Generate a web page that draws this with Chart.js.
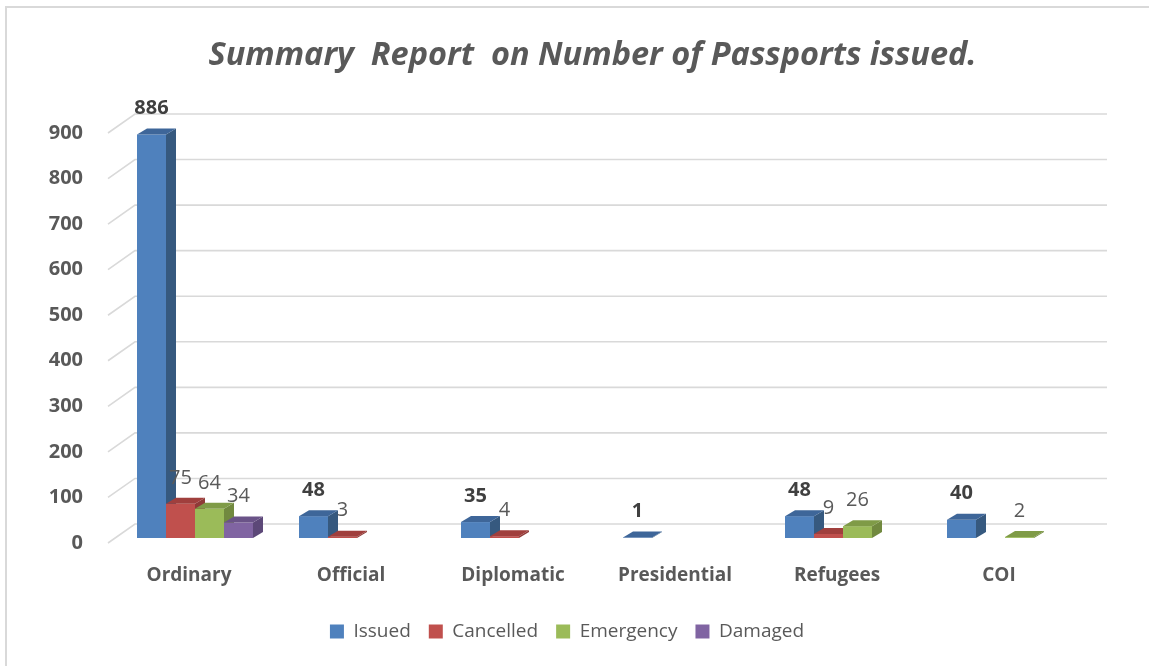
<!DOCTYPE html>
<html lang="en">
<head>
<meta charset="UTF-8">
<title>Summary Report on Number of Passports issued</title>
<script src="https://cdn.jsdelivr.net/npm/chart.js"></script>
<style>
  body { margin: 0; background: #fff; }
  canvas { display: block; }
</style>
</head>
<body>
<canvas id="chart" width="1149" height="666"></canvas>
<script>
// data
const categories = ['Ordinary', 'Official', 'Diplomatic', 'Presidential', 'Refugees', 'COI'];
const issued    = [886, 48, 35, 1, 48, 40];
const cancelled = [75, 3, 4, null, 9, null];
const emergency = [64, null, null, null, 26, 2];
const damaged   = [34, null, null, null, null, null];
const yMin = 0, yMax = 900, yStep = 100;

// front / side / top shades for the fake 3d columns
const shades = [
  { front: '#4f81bd', side: '#36597f', top: '#3e6699' },
  { front: '#c0504d', side: '#8f3a38', top: '#a03f3d' },
  { front: '#9bbb59', side: '#71893f', top: '#7f9b47' },
  { front: '#8064a2', side: '#5c4878', top: '#6a5388' }
];

const WALL_DX = 27, WALL_DY = 19;   // depth of the floor / back wall
const BAR_OX = 6, BAR_OY = -5;      // columns sit a little behind the front edge
const BAR_DX = 10, BAR_DY = 6;      // depth of a column

function poly(ctx, pts, fill) {
  ctx.beginPath();
  ctx.moveTo(pts[0][0], pts[0][1]);
  for (let k = 1; k < pts.length; k++) ctx.lineTo(pts[k][0], pts[k][1]);
  ctx.closePath();
  ctx.fillStyle = fill;
  ctx.fill();
}

const bars3d = {
  id: 'bars3d',
  afterLayout(chart) {
    // excel centres title and legend a bit differently from the plot area
    chart.titleBlock.left = 36;
    chart.titleBlock.right = chart.width;
    chart.legend.left = 54;
    chart.legend.right = 1080;
  },
  beforeDraw(chart) {
    const ctx = chart.ctx;
    ctx.save();
    ctx.strokeStyle = '#d9d9d9';
    ctx.lineWidth = 2;
    ctx.strokeRect(6, 7, chart.width + 20, chart.height + 20);
    ctx.restore();
  },
  beforeDatasetsDraw(chart) {
    const ctx = chart.ctx;
    const a = chart.chartArea;
    const y = chart.scales.y;
    ctx.save();

    // back wall grid + side wall edges
    ctx.strokeStyle = '#d9d9d9';
    ctx.lineWidth = 1.6;
    y.ticks.forEach(t => {
      const py = y.getPixelForValue(t.value);
      ctx.beginPath();
      ctx.moveTo(a.left, py);
      ctx.lineTo(a.left + WALL_DX, py - WALL_DY);
      ctx.lineTo(a.right + WALL_DX, py - WALL_DY);
      ctx.stroke();
    });

    // columns
    chart.data.datasets.forEach((ds, i) => {
      const meta = chart.getDatasetMeta(i);
      if (meta.hidden) return;
      const c = shades[i];
      meta.data.forEach((bar, j) => {
        if (ds.data[j] == null) return;
        const x1 = bar.x - bar.width / 2 + BAR_OX;
        const x2 = bar.x + bar.width / 2 + BAR_OX;
        const top = bar.y + BAR_OY;
        const bot = bar.base + BAR_OY;
        poly(ctx, [[x1, top], [x2, top], [x2, bot], [x1, bot]], c.front);
        poly(ctx, [[x2, top], [x2 + BAR_DX, top - BAR_DY], [x2 + BAR_DX, bot - BAR_DY], [x2, bot]], c.side);
        poly(ctx, [[x1, top], [x1 + BAR_DX, top - BAR_DY], [x2 + BAR_DX, top - BAR_DY], [x2, top]], c.top);
      });
    });

    // value labels
    ctx.textAlign = 'center';
    ctx.textBaseline = 'middle';
    chart.data.datasets.forEach((ds, i) => {
      const meta = chart.getDatasetMeta(i);
      if (meta.hidden) return;
      if (i === 0) {
        ctx.font = 'bold 20px "Open Sans"';
        ctx.fillStyle = '#404040';
      } else {
        ctx.font = '20px "Open Sans"';
        ctx.fillStyle = '#595959';
      }
      meta.data.forEach((bar, j) => {
        if (ds.data[j] == null) return;
        ctx.fillText(String(ds.data[j]), bar.x + BAR_OX, bar.y + BAR_OY - 26);
      });
    });

    ctx.restore();
    return false;
  }
};

new Chart(document.getElementById('chart'), {
  type: 'bar',
  data: {
    labels: categories,
    datasets: [
      { label: 'Issued', data: issued, backgroundColor: shades[0].front },
      { label: 'Cancelled', data: cancelled, backgroundColor: shades[1].front },
      { label: 'Emergency', data: emergency, backgroundColor: shades[2].front },
      { label: 'Damaged', data: damaged, backgroundColor: shades[3].front }
    ]
  },
  options: {
    responsive: false,
    animation: false,
    events: [],
    categoryPercentage: 0.716,
    barPercentage: 1,
    layout: { padding: { left: 0, right: 69, top: 0, bottom: 15 } },
    scales: {
      x: {
        grid: { display: false, drawTicks: false },
        border: { display: false },
        ticks: {
          padding: 21,
          color: '#595959',
          font: { family: 'Open Sans', size: 19, weight: 'bold' }
        },
        afterFit(scale) { scale.height = 61; }
      },
      y: {
        min: yMin,
        max: yMax,
        grid: { display: false, drawTicks: false },
        border: { display: false },
        ticks: {
          stepSize: yStep,
          padding: 25,
          color: '#595959',
          font: { family: 'Open Sans', size: 20, weight: 'bold' }
        },
        afterFit(scale) { scale.width = 108; }
      }
    },
    plugins: {
      title: {
        display: true,
        text: 'Summary  Report  on Number of Passports issued.',
        color: '#595959',
        font: { family: 'Open Sans', size: 32.5, weight: 'bold', style: 'italic', lineHeight: 1.2 },
        padding: { top: 36, bottom: 58 }
      },
      legend: {
        position: 'bottom',
        labels: {
          color: '#595959',
          boxWidth: 14,
          boxHeight: 14,
          padding: 18,
          font: { family: 'Open Sans', size: 19 }
        }
      },
      tooltip: { enabled: false }
    }
  },
  plugins: [bars3d]
});
</script>
</body>
</html>
